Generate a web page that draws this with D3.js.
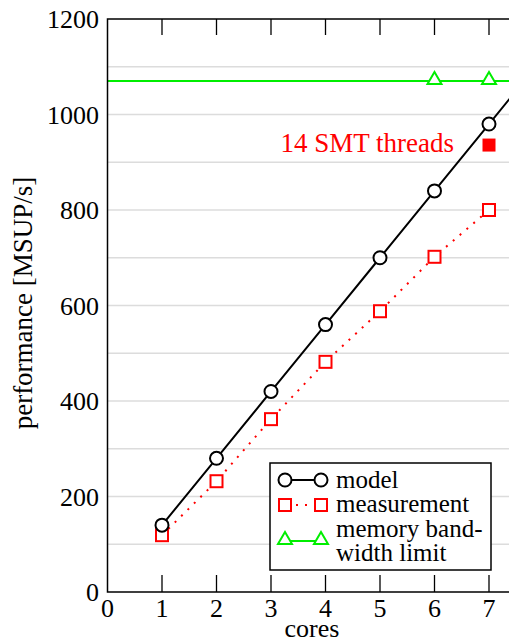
<!DOCTYPE html>
<html>
<head>
<meta charset="utf-8">
<script src="https://cdn.jsdelivr.net/npm/d3@7"></script>
<style>
  body { margin: 0; background: #fff; }
  svg { display: block; }
</style>
</head>
<body>
<svg id="chart"></svg>
<script>
// model extends past the last measured core, clipped at the frame edge
const modelCores = [1, 2, 3, 4, 5, 6, 7, 8];
const modelPerf = [140, 280, 420, 560, 700, 840, 980, 1120];
const measCores = [1, 2, 3, 4, 5, 6, 7];
const measPerf = [119, 232, 362, 482, 588, 702, 800];
const smtPoint = [{ core: 7, perf: 936 }];
const memLimit = 1070;
const memMarkerCores = [6, 7];
const xTicks = [0, 1, 2, 3, 4, 5, 6, 7, 8];
const yTicks = [0, 200, 400, 600, 800, 1000, 1200];
const yGrid = [100, 200, 300, 400, 500, 600, 700, 800, 900, 1000, 1100];

const W = 509, H = 642;
const plotLeft = 107.5, plotTop = 19, plotBottom = 592;
const serif = "'Liberation Serif', 'Times New Roman', serif";

const svg = d3.select("#chart")
  .attr("width", W).attr("height", H)
  .style("font-family", serif);

const x = d3.scaleLinear().domain([0, 8]).range([plotLeft, plotLeft + 8 * 54.5]);
const y = d3.scaleLinear().domain([0, 1200]).range([plotBottom, plotTop]);

svg.append("defs").append("clipPath").attr("id", "plotclip")
  .append("rect")
  .attr("x", plotLeft).attr("y", plotTop)
  .attr("width", W - plotLeft).attr("height", plotBottom - plotTop);

// grid
svg.append("g")
  .selectAll("line")
  .data(yGrid)
  .join("line")
  .attr("x1", plotLeft).attr("x2", W)
  .attr("y1", (d) => y(d)).attr("y2", (d) => y(d))
  .attr("stroke", "#dcdcdc")
  .attr("stroke-width", 1.5);

const plot = svg.append("g").attr("clip-path", "url(#plotclip)");

// memory bandwidth limit
plot.append("line")
  .attr("x1", plotLeft).attr("x2", W)
  .attr("y1", y(memLimit)).attr("y2", y(memLimit))
  .attr("stroke", "#00ee00")
  .attr("stroke-width", 2);

const tri = d3.symbol().type(d3.symbolTriangle).size(85);
plot.selectAll(".tri")
  .data(memMarkerCores)
  .join("path")
  .attr("class", "tri")
  .attr("d", tri)
  .attr("transform", (d) => `translate(${x(d)},${y(memLimit) - 1})`)
  .attr("fill", "#fff")
  .attr("stroke", "#00ee00")
  .attr("stroke-width", 2);

// measurement
const measLine = d3.line().x((d, i) => x(measCores[i])).y((d) => y(d));
plot.append("path")
  .attr("d", measLine(measPerf))
  .attr("fill", "none")
  .attr("stroke", "#ff0000")
  .attr("stroke-width", 2)
  .attr("stroke-dasharray", "2,7");

plot.selectAll(".sq")
  .data(measPerf)
  .join("rect")
  .attr("class", "sq")
  .attr("x", (d, i) => x(measCores[i]) - 6)
  .attr("y", (d) => y(d) - 6)
  .attr("width", 12).attr("height", 12)
  .attr("fill", "#fff")
  .attr("stroke", "#ff0000")
  .attr("stroke-width", 2);

plot.selectAll(".smt")
  .data(smtPoint)
  .join("rect")
  .attr("class", "smt")
  .attr("x", (d) => x(d.core) - 6.5)
  .attr("y", (d) => y(d.perf) - 6.5)
  .attr("width", 13).attr("height", 13)
  .attr("fill", "#ff0000");

// model
const modelLine = d3.line().x((d, i) => x(modelCores[i])).y((d) => y(d));
plot.append("path")
  .attr("d", modelLine(modelPerf))
  .attr("fill", "none")
  .attr("stroke", "#000")
  .attr("stroke-width", 2);

plot.selectAll(".circ")
  .data(modelPerf)
  .join("circle")
  .attr("class", "circ")
  .attr("cx", (d, i) => x(modelCores[i]))
  .attr("cy", (d) => y(d))
  .attr("r", 6.5)
  .attr("fill", "#fff")
  .attr("stroke", "#000")
  .attr("stroke-width", 2);

// frame
svg.append("path")
  .attr("d", `M${W},${plotTop}H${plotLeft}V${plotBottom}H${W}`)
  .attr("fill", "none")
  .attr("stroke", "#000")
  .attr("stroke-width", 1.5);

// inward ticks, top and bottom
const tickG = svg.append("g");
xTicks.filter((d) => d > 0 && x(d) < W).forEach((d) => {
  tickG.append("line")
    .attr("x1", x(d)).attr("x2", x(d))
    .attr("y1", plotBottom).attr("y2", plotBottom - 17)
    .attr("stroke", "#000").attr("stroke-width", 1.3);
  tickG.append("line")
    .attr("x1", x(d)).attr("x2", x(d))
    .attr("y1", plotTop).attr("y2", plotTop + 16)
    .attr("stroke", "#000").attr("stroke-width", 1.3);
});

// tick labels
svg.append("g")
  .selectAll("text")
  .data(xTicks.filter((d) => x(d) < W))
  .join("text")
  .attr("x", (d) => x(d))
  .attr("y", 617)
  .attr("text-anchor", "middle")
  .attr("font-size", 26)
  .text((d) => d);

svg.append("g")
  .selectAll("text")
  .data(yTicks)
  .join("text")
  .attr("x", 99)
  .attr("y", (d) => y(d) + 9)
  .attr("text-anchor", "end")
  .attr("font-size", 26)
  .text((d) => d);

// axis titles
svg.append("text")
  .attr("x", 312).attr("y", 637)
  .attr("text-anchor", "middle")
  .attr("font-size", 26)
  .text("cores");

svg.append("text")
  .attr("transform", "translate(32,303) rotate(-90)")
  .attr("text-anchor", "middle")
  .attr("font-size", 27)
  .text("performance [MSUP/s]");

svg.append("text")
  .attr("x", 454).attr("y", 152)
  .attr("text-anchor", "end")
  .attr("font-size", 27)
  .attr("fill", "#ff0000")
  .text("14 SMT threads");

// legend
const lg = svg.append("g");
lg.append("rect")
  .attr("x", 270).attr("y", 463)
  .attr("width", 221).attr("height", 107)
  .attr("fill", "#fff")
  .attr("stroke", "#000")
  .attr("stroke-width", 1.5);

const lx1 = 285, lx2 = 321;
lg.append("line").attr("x1", lx1).attr("x2", lx2).attr("y1", 480).attr("y2", 480)
  .attr("stroke", "#000").attr("stroke-width", 2);
[lx1, lx2].forEach((cx) => lg.append("circle").attr("cx", cx).attr("cy", 480).attr("r", 6.5)
  .attr("fill", "#fff").attr("stroke", "#000").attr("stroke-width", 2));

lg.append("line").attr("x1", lx1 + 6).attr("x2", lx2 - 6).attr("y1", 505).attr("y2", 505)
  .attr("stroke", "#ff0000").attr("stroke-width", 2).attr("stroke-dasharray", "2,7")
  .attr("stroke-dashoffset", -5);
[lx1, lx2].forEach((cx) => lg.append("rect").attr("x", cx - 6).attr("y", 499).attr("width", 12).attr("height", 12)
  .attr("fill", "#fff").attr("stroke", "#ff0000").attr("stroke-width", 2));

lg.append("line").attr("x1", lx1).attr("x2", lx2).attr("y1", 541).attr("y2", 541)
  .attr("stroke", "#00ee00").attr("stroke-width", 2);
[lx1, lx2].forEach((cx) => lg.append("path").attr("d", tri)
  .attr("transform", `translate(${cx},540)`)
  .attr("fill", "#fff").attr("stroke", "#00ee00").attr("stroke-width", 2));

const legendLabels = ["model", "measurement", "memory band-", "width limit"];
const legendBase = [488, 512, 537, 561];
lg.selectAll(".lt")
  .data(legendLabels)
  .join("text")
  .attr("class", "lt")
  .attr("x", 336)
  .attr("y", (d, i) => legendBase[i])
  .attr("font-size", 25)
  .text((d) => d);
</script>
</body>
</html>
